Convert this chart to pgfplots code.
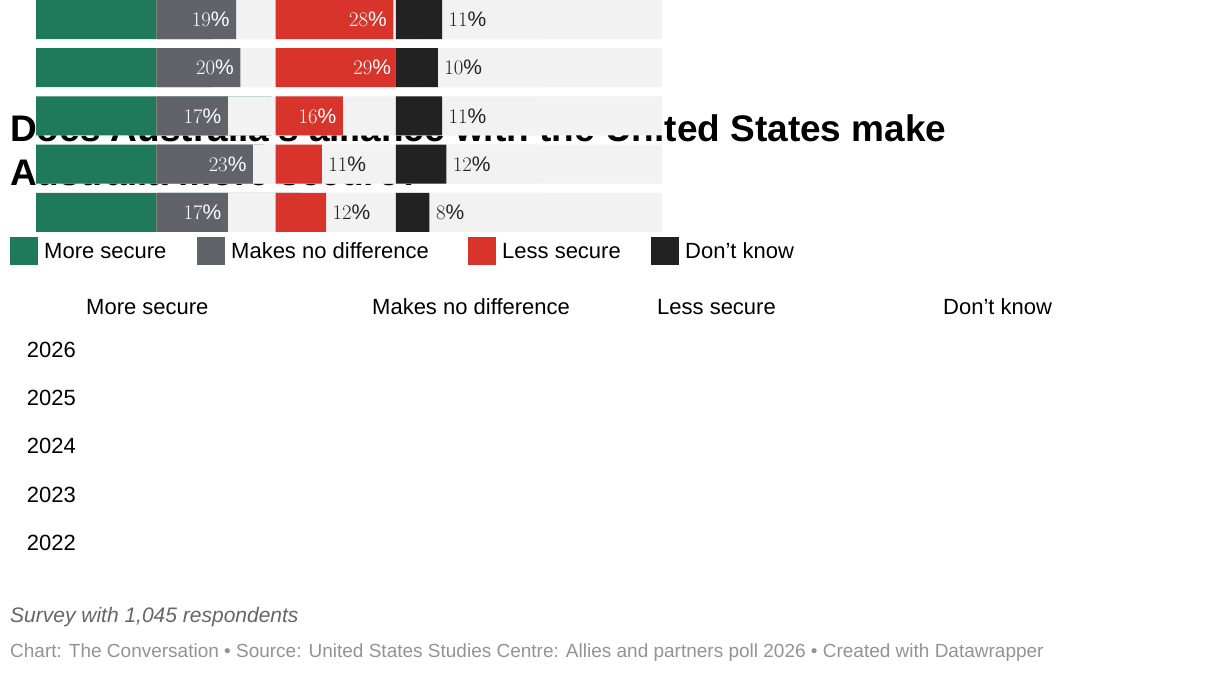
\documentclass[border=0pt]{standalone}
\usepackage{pgfplots}
\pgfplotsset{compat=1.18}
\usepackage{fontspec}
\setmainfont{Liberation Sans}
\definecolor{colG}{HTML}{1F7A5C}
\definecolor{colM}{HTML}{62626A}
\definecolor{colR}{HTML}{D9342B}
\definecolor{colK}{HTML}{222222}
\definecolor{colBg}{HTML}{F2F2F2}
\definecolor{colFt}{HTML}{666666}
\pgfplotsset{panel/.style={
  xbar, scale only axis, width=266pt, height=241pt,
  xmin=0, xmax=63.3, ymin=-0.5, ymax=4.5, y dir=reverse,
  axis lines=none, bar width=39pt, bar shift=0pt,
  anchor=north west, clip=false,
  ytick=\empty, xtick=\empty,
  nodes near coords={\pgfmathprintnumber{\pgfplotspointmeta}\%},
  point meta=x,
  every node near coord/.append style={font=\fontsize{21}{21}\selectfont},
}}
\newcommand{\bgbars}{\addplot[fill=colBg,draw=none,nodes near coords={}] coordinates {(63.3,0)(63.3,1)(63.3,2)(63.3,3)(63.3,4)};}
\begin{document}
\begin{tikzpicture}[x=1pt,y=1pt]
\fill[white] (0,0) rectangle (1220,-574);
\node[anchor=north west,align=left,font=\bfseries\fontsize{37}{44}\selectfont,inner sep=0] at (10,-12) {Does Australia's alliance with the United States make\\Australia more secure?};
\foreach \x/\c/\t in {10/colG/More secure,197/colM/Makes no difference,468/colR/Less secure,651/colK/Don't know}{
  \fill[fill=\c] (\x,-134) rectangle ++(28,-28);
  \node[anchor=west,font=\fontsize{22}{22}\selectfont,inner sep=0] at (\x+34,-148) {\t};
}
\foreach \x/\t in {86/More secure,372/Makes no difference,657/Less secure,943/Don't know}{
  \node[anchor=west,font=\fontsize{22}{22}\selectfont,inner sep=0] at (\x,-204) {\t};
}
\foreach \y/\t in {0/2026,1/2025,2/2024,3/2023,4/2022}{
  \node[anchor=east,font=\fontsize{22}{22}\selectfont,inner sep=0] at (76,-247-48.25*\y) {\t};
}
\begin{axis}[panel, at={(86,-223)}]
\bgbars
\addplot[fill=colG,draw=none,every node near coord/.append style={anchor=east,text=white,xshift=-3pt}] coordinates {(42,0)(42,1)(56,2)(54,3)(63,4)};
\end{axis}
\begin{axis}[panel, at={(372,-223)}]
\bgbars
\addplot[fill=colM,draw=none,every node near coord/.append style={anchor=east,text=white,xshift=-3pt}] coordinates {(19,0)(20,1)(17,2)(23,3)(17,4)};
\end{axis}
\begin{axis}[panel, at={(656,-223)}]
\bgbars
\addplot[fill=colR,draw=none,every node near coord/.append style={anchor=east,text=white,xshift=-3pt}] coordinates {(28,0)(29,1)(16,2)};
\addplot[fill=colR,draw=none,every node near coord/.append style={anchor=west,text=colK,xshift=3pt}] coordinates {(11,3)(12,4)};
\end{axis}
\begin{axis}[panel, at={(942,-223)}]
\bgbars
\addplot[fill=colK,draw=none,every node near coord/.append style={anchor=west,text=colK,xshift=3pt}] coordinates {(11,0)(10,1)(11,2)(12,3)(8,4)};
\end{axis}
\node[anchor=west,font=\itshape\fontsize{21}{21}\selectfont,text=colFt,inner sep=0] at (10,-514) {Survey with 1,045 respondents};
\node[anchor=west,font=\fontsize{19}{19}\selectfont,text=gray!85,inner sep=0] at (10,-550) {Chart: The Conversation • Source: United States Studies Centre: Allies and partners poll 2026 • Created with Datawrapper};
\end{tikzpicture}
\end{document}
